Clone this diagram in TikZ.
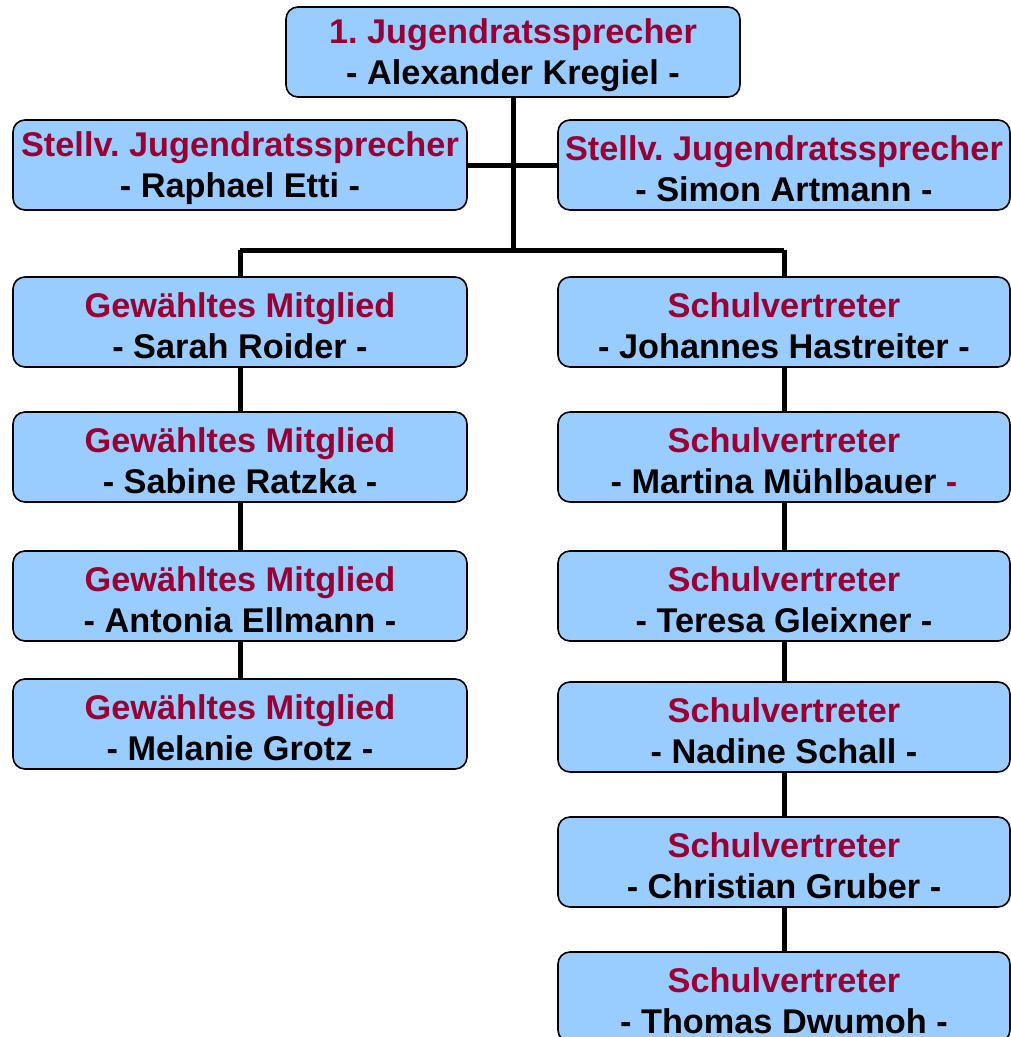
\documentclass[tikz,border=0pt]{standalone}
\usepackage{fontspec}
\setmainfont{Liberation Sans}
\usetikzlibrary{backgrounds}
\definecolor{rot}{HTML}{990033}
\definecolor{blau}{HTML}{99CCFF}
\frenchspacing
\begin{document}
\begin{tikzpicture}[x=1pt,y=-1pt,
  box/.style={draw=black, line width=1.6pt, fill=blau, rounded corners=12pt,
    minimum width=454pt, minimum height=90pt, inner sep=0pt, align=center,
    font=\fontsize{34.3}{41}\selectfont\bfseries},
  conn/.style={draw=black, line width=5pt}]
\useasboundingbox (0,0) rectangle (1011,1037);
\newcommand{\rt}[1]{\textcolor{rot}{#1}}
\newcommand{\tl}[1]{\rule{0pt}{32pt}\textcolor{rot}{#1}}
\node[box] (top) at (513,52) {\tl{1. Jugendratssprecher}\\- Alexander Kregiel -};
\node[box] (sl) at (240,165) {\tl{Stellv. Jugendratssprecher}\\- Raphael Etti -};
\node[box, minimum width=452pt] (sr) at (784,165) {\tl{Stellv. Jugendratssprecher}\\- Simon Artmann -};
\node[box] (l1) at (240,322) {\tl{Gewähltes Mitglied}\\- Sarah Roider -};
\node[box] (l2) at (240,457) {\tl{Gewähltes Mitglied}\\- Sabine Ratzka -};
\node[box] (l3) at (240,596) {\tl{Gewähltes Mitglied}\\- Antonia Ellmann -};
\node[box] (l4) at (240,724) {\tl{Gewähltes Mitglied}\\- Melanie Grotz -};
\node[box, minimum width=452pt] (r1) at (784,322) {\tl{Schulvertreter}\\- Johannes Hastreiter -};
\node[box, minimum width=452pt] (r2) at (784,457) {\tl{Schulvertreter}\\- Martina Mühlbauer \rt{-}};
\node[box, minimum width=452pt] (r3) at (784,596) {\tl{Schulvertreter}\\- Teresa Gleixner -};
\node[box, minimum width=452pt] (r4) at (784,727) {\tl{Schulvertreter}\\- Nadine Schall -};
\node[box, minimum width=452pt] (r5) at (784,862) {\tl{Schulvertreter}\\- Christian Gruber -};
\node[box, minimum width=452pt] (r6) at (784,997) {\tl{Schulvertreter}\\- Thomas Dwumoh -};
\coordinate (j) at (513,250);
\coordinate (jl) at (240,250);
\coordinate (jr) at (784,250);
\begin{scope}[on background layer]
\draw[conn] (top.south) -- (j);
\draw[conn] (sl.east) -- (sr.west);
\draw[conn] (jl) -- (jr);
\draw[conn] (jl) -- (l1.north);
\draw[conn] (jr) -- (r1.north);
\draw[conn] (l1) -- (l2);
\draw[conn] (l2) -- (l3);
\draw[conn] (l3) -- (l4);
\draw[conn] (r1) -- (r2);
\draw[conn] (r2) -- (r3);
\draw[conn] (r3) -- (r4);
\draw[conn] (r4) -- (r5);
\draw[conn] (r5) -- (r6);
\end{scope}
\end{tikzpicture}
\end{document}
